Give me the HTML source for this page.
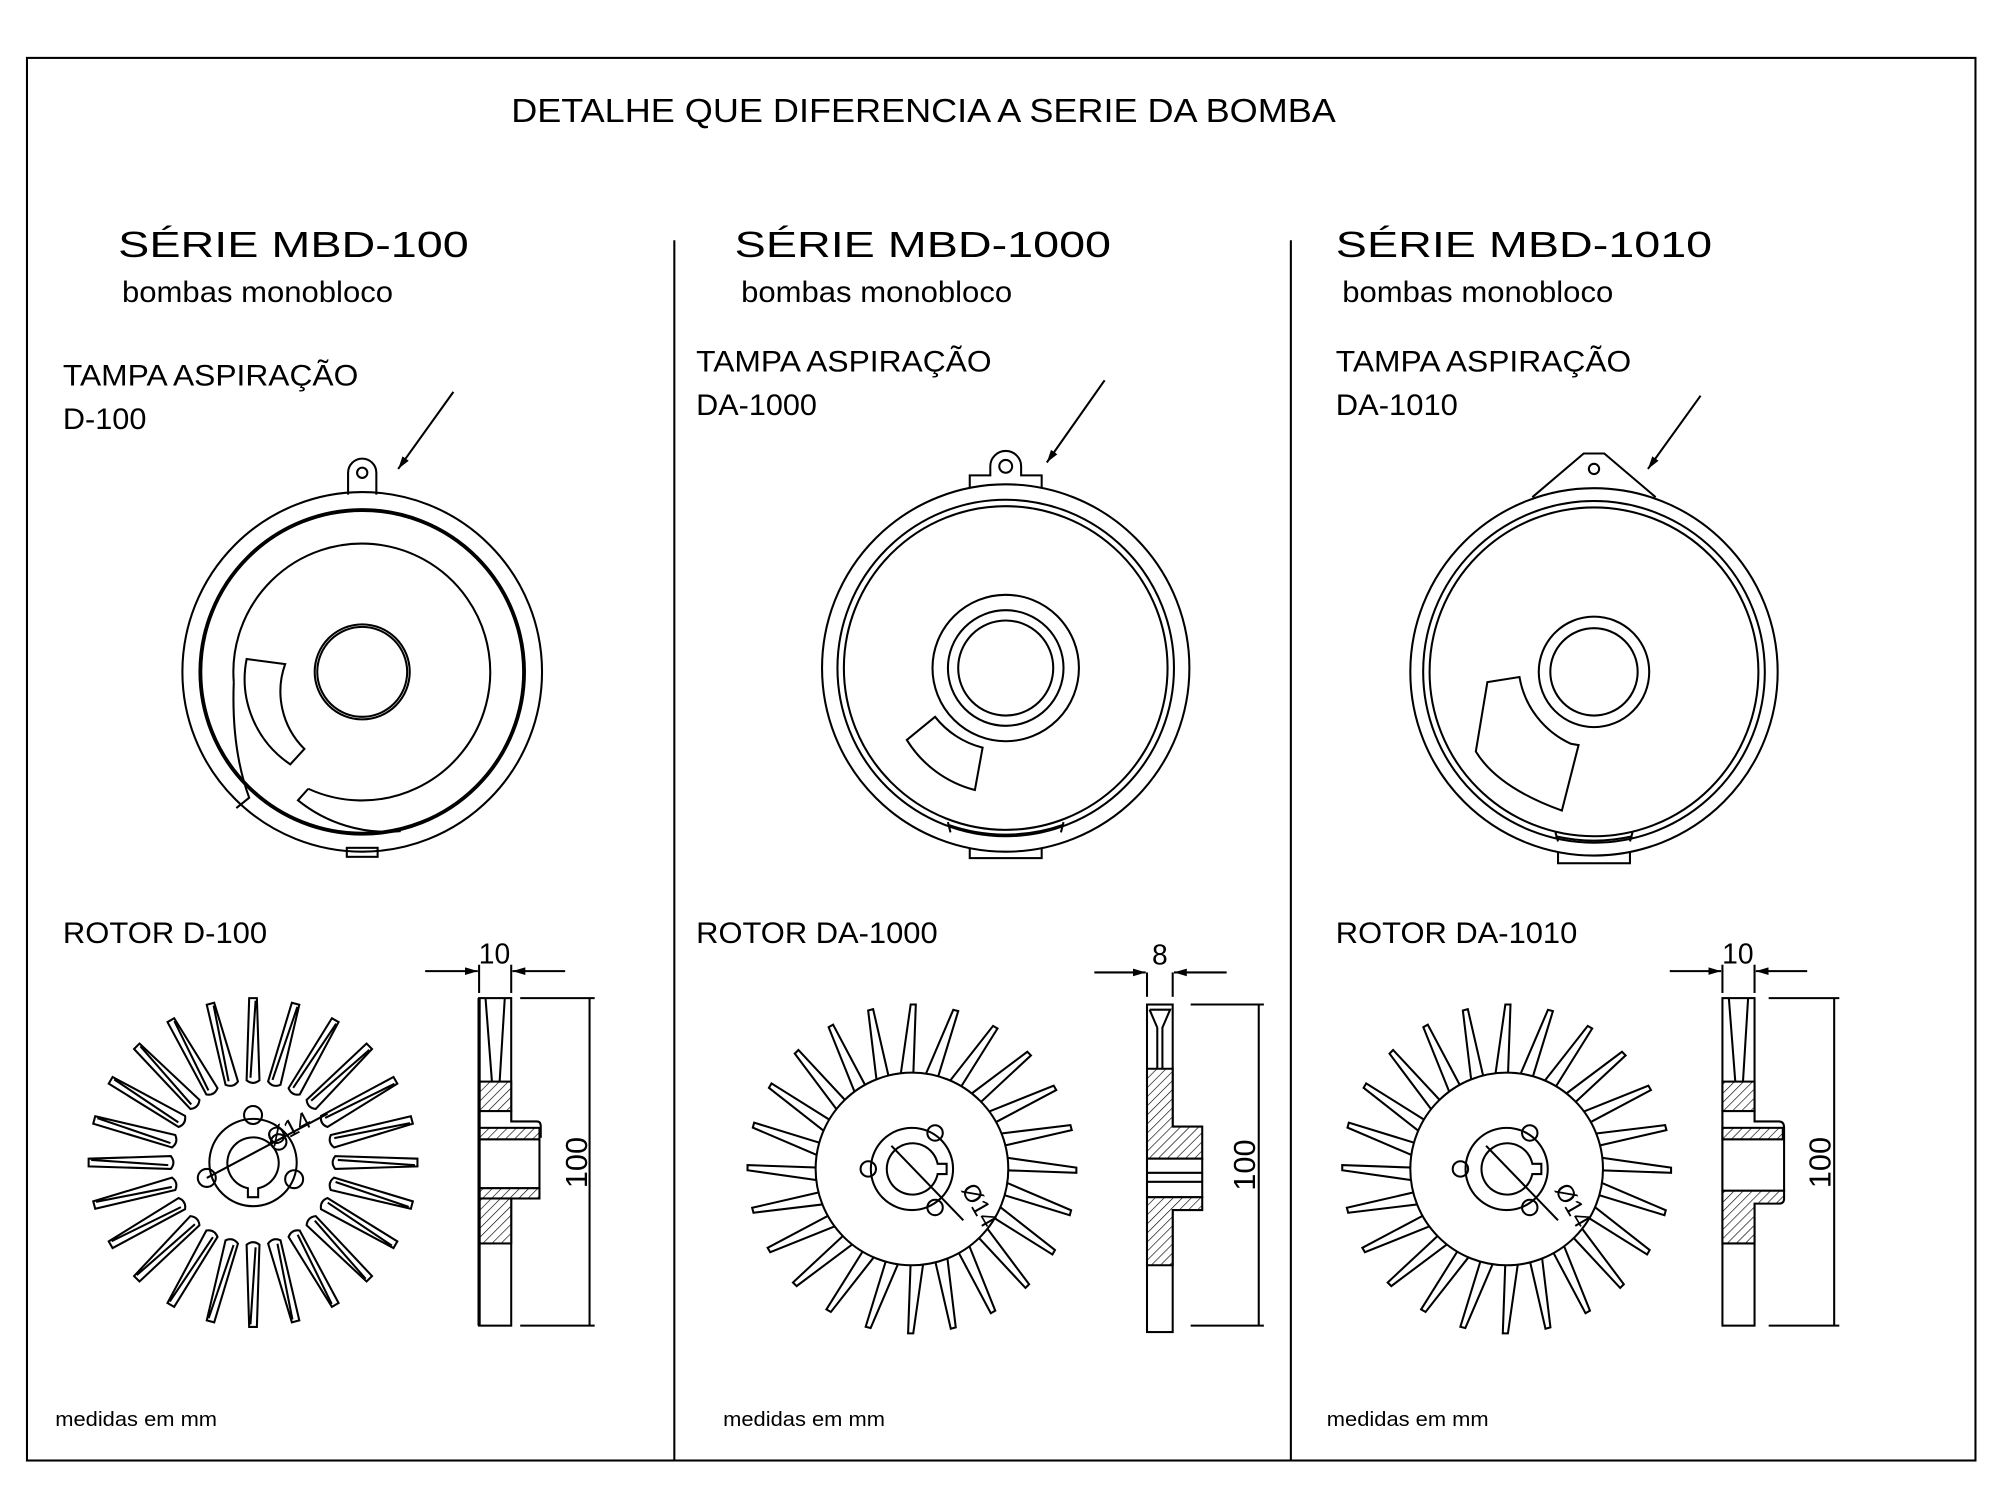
<!DOCTYPE html>
<html><head><meta charset="utf-8"><style>
html,body{margin:0;padding:0;background:#fff;}
svg{display:block;}
text{font-family:"Liberation Sans",sans-serif;fill:#000;}
</style></head><body>
<svg width="2014" height="1503" viewBox="0 0 1568 1170" xmlns="http://www.w3.org/2000/svg">
<defs>
<pattern id="h" width="5" height="5" patternUnits="userSpaceOnUse" patternTransform="rotate(45)">
<rect width="5" height="5" fill="#fff"/><line x1="0" y1="0" x2="0" y2="5" stroke="#000" stroke-width="1"/>
</pattern>
<g id="b1"><path d="M64,-5 L128,-3 L128,3 L64,5 Q60,0 64,-5 Z M66,-2 L126,2" fill="none" stroke="#000" stroke-width="1.6"/></g>
<g id="b2"><path d="M72,-9 L128,-1 L128,3 L72,1 Z" fill="none" stroke="#000" stroke-width="1.6"/></g>
<marker id="ar" markerWidth="10" markerHeight="6" refX="10" refY="3" orient="auto" markerUnits="userSpaceOnUse"><path d="M0,0 L10,3 L0,6 Z" fill="#000"/></marker>
</defs>
<g fill="none" stroke="#000" stroke-width="1.6">
<rect x="21" y="45" width="1517" height="1092"/>
<line x1="525" y1="187" x2="525" y2="1137"/>
<line x1="1005" y1="187" x2="1005" y2="1137"/>
</g>
<g lengthAdjust="spacingAndGlyphs">
<text x="398" y="95" font-size="26" textLength="642" lengthAdjust="spacingAndGlyphs">DETALHE QUE DIFERENCIA A SERIE DA BOMBA</text>
<text x="92" y="200" font-size="28" textLength="273" lengthAdjust="spacingAndGlyphs">SÉRIE MBD-100</text>
<text x="572" y="200" font-size="28" textLength="293" lengthAdjust="spacingAndGlyphs">SÉRIE MBD-1000</text>
<text x="1040" y="200" font-size="28" textLength="293" lengthAdjust="spacingAndGlyphs">SÉRIE MBD-1010</text>
<text x="95" y="235" font-size="23" textLength="211" lengthAdjust="spacingAndGlyphs">bombas monobloco</text>
<text x="577" y="235" font-size="23" textLength="211" lengthAdjust="spacingAndGlyphs">bombas monobloco</text>
<text x="1045" y="235" font-size="23" textLength="211" lengthAdjust="spacingAndGlyphs">bombas monobloco</text>
<text x="49" y="300" font-size="23" textLength="230" lengthAdjust="spacingAndGlyphs">TAMPA ASPIRAÇÃO</text>
<text x="49" y="334" font-size="23" textLength="65" lengthAdjust="spacingAndGlyphs">D-100</text>
<text x="542" y="289" font-size="23" textLength="230" lengthAdjust="spacingAndGlyphs">TAMPA ASPIRAÇÃO</text>
<text x="542" y="323" font-size="23" textLength="94" lengthAdjust="spacingAndGlyphs">DA-1000</text>
<text x="1040" y="289" font-size="23" textLength="230" lengthAdjust="spacingAndGlyphs">TAMPA ASPIRAÇÃO</text>
<text x="1040" y="323" font-size="23" textLength="95" lengthAdjust="spacingAndGlyphs">DA-1010</text>
<text x="49" y="734" font-size="23" textLength="159" lengthAdjust="spacingAndGlyphs">ROTOR D-100</text>
<text x="542" y="734" font-size="23" textLength="188" lengthAdjust="spacingAndGlyphs">ROTOR DA-1000</text>
<text x="1040" y="734" font-size="23" textLength="188" lengthAdjust="spacingAndGlyphs">ROTOR DA-1010</text>
<text x="43" y="1110" font-size="16" textLength="126" lengthAdjust="spacingAndGlyphs">medidas em mm</text>
<text x="563" y="1110" font-size="16" textLength="126" lengthAdjust="spacingAndGlyphs">medidas em mm</text>
<text x="1033" y="1110" font-size="16" textLength="126" lengthAdjust="spacingAndGlyphs">medidas em mm</text>
</g>

<g fill="none" stroke="#000" stroke-width="1.6">
<line x1="353" y1="305" x2="310" y2="365" marker-end="url(#ar)"/>
<line x1="860" y1="296" x2="815" y2="360" marker-end="url(#ar)"/>
<line x1="1324" y1="308" x2="1283" y2="365" marker-end="url(#ar)"/>

<!-- Tampa 1 -->
<g transform="translate(282,523)">
<path d="M-11,-138 L-11,-155 A11,11 0 0 1 11,-155 L11,-138" fill="#fff"/>
<circle cx="0" cy="-155" r="4"/>
<rect x="-12" y="137" width="24" height="7"/>
<circle r="140"/>
<circle r="126" stroke-width="3"/>
<path d="M-100,8 A100,100 0 1 1 -42,91"/>
<circle r="37"/><circle r="35"/>
<path d="M-90,-10 L-60,-6 A63,63 0 0 0 -45,60 L-56,72 A80,80 0 0 1 -90,-10 Z"/>
<path d="M-100,8 Q-102,60 -88,98 L-98,106"/>
<path d="M-42,91 L-50,100 A110,110 0 0 0 30,124"/>
</g>

<!-- Tampa 2 -->
<g transform="translate(783,520)">
<path d="M-28,-137 L-28,-150 L-12,-150 L-12,-157 A12,12 0 0 1 12,-157 L12,-150 L28,-150 L28,-137" fill="#fff"/>
<circle cx="0" cy="-157" r="5"/>
<rect x="-28" y="137" width="56" height="11"/>
<circle r="143" fill="#fff"/>
<circle r="131"/><circle r="126"/>
<circle r="57"/><circle r="45"/><circle r="37"/>
<path d="M-77,56 L-55,38 A68,68 0 0 0 -18,62 L-24,95 A88,88 0 0 1 -77,56 Z"/>
<path d="M-45,120 L-43,128 M45,120 L43,128 M-45,122 A135,135 0 0 0 45,122"/>
</g>

<!-- Tampa 3 -->
<g transform="translate(1241,523)">
<path d="M-48,-136 L-8,-170 L8,-170 L48,-136" fill="#fff"/>
<circle cx="0" cy="-158" r="4"/>
<rect x="-28" y="138" width="56" height="11"/>
<circle r="143" fill="#fff"/>
<circle r="133"/><circle r="128"/>
<circle r="43"/><circle r="34"/>
<path d="M-83,8 L-58,4 A70,70 0 0 0 -18,56 L-12,57 L-25,108 Q-75,90 -92,62 Z"/>
<path d="M-30,125 L-28,132 M30,125 L28,132 M-30,128 A135,135 0 0 0 30,128"/>
</g>

<!-- Rotor 1 -->
<g transform="translate(197,905)">
<use href="#b1" transform="rotate(0)"/><use href="#b1" transform="rotate(15)"/><use href="#b1" transform="rotate(30)"/><use href="#b1" transform="rotate(45)"/><use href="#b1" transform="rotate(60)"/><use href="#b1" transform="rotate(75)"/><use href="#b1" transform="rotate(90)"/><use href="#b1" transform="rotate(105)"/><use href="#b1" transform="rotate(120)"/><use href="#b1" transform="rotate(135)"/><use href="#b1" transform="rotate(150)"/><use href="#b1" transform="rotate(165)"/><use href="#b1" transform="rotate(180)"/><use href="#b1" transform="rotate(195)"/><use href="#b1" transform="rotate(210)"/><use href="#b1" transform="rotate(225)"/><use href="#b1" transform="rotate(240)"/><use href="#b1" transform="rotate(255)"/><use href="#b1" transform="rotate(270)"/><use href="#b1" transform="rotate(285)"/><use href="#b1" transform="rotate(300)"/><use href="#b1" transform="rotate(315)"/><use href="#b1" transform="rotate(330)"/><use href="#b1" transform="rotate(345)"/>
<circle r="34"/>
<path d="M-4,20 A20,20 0 1 1 4,20 L4,27 L-4,27 Z"/>
<circle cx="0" cy="-37" r="7"/><circle cx="-36" cy="12" r="7"/><circle cx="32" cy="13" r="7"/><circle cx="20" cy="-16" r="6"/>
<line x1="-36" y1="12" x2="58" y2="-38"/>
</g>

<!-- Rotor 2 -->
<g transform="translate(710,910)">
<use href="#b2" transform="rotate(0)"/><use href="#b2" transform="rotate(15)"/><use href="#b2" transform="rotate(30)"/><use href="#b2" transform="rotate(45)"/><use href="#b2" transform="rotate(60)"/><use href="#b2" transform="rotate(75)"/><use href="#b2" transform="rotate(90)"/><use href="#b2" transform="rotate(105)"/><use href="#b2" transform="rotate(120)"/><use href="#b2" transform="rotate(135)"/><use href="#b2" transform="rotate(150)"/><use href="#b2" transform="rotate(165)"/><use href="#b2" transform="rotate(180)"/><use href="#b2" transform="rotate(195)"/><use href="#b2" transform="rotate(210)"/><use href="#b2" transform="rotate(225)"/><use href="#b2" transform="rotate(240)"/><use href="#b2" transform="rotate(255)"/><use href="#b2" transform="rotate(270)"/><use href="#b2" transform="rotate(285)"/><use href="#b2" transform="rotate(300)"/><use href="#b2" transform="rotate(315)"/><use href="#b2" transform="rotate(330)"/><use href="#b2" transform="rotate(345)"/>
<circle r="75" fill="#fff"/>
<circle r="32"/>
<path d="M20,-4 A20,20 0 1 0 20,4 L27,4 L27,-4 Z"/>
<circle cx="-34" cy="0" r="6"/><circle cx="18" cy="-28" r="6"/><circle cx="18" cy="30" r="6"/>
<line x1="-16" y1="-18" x2="40" y2="40"/>
</g>

<!-- Rotor 3 -->
<g transform="translate(1173,910)">
<use href="#b2" transform="rotate(0)"/><use href="#b2" transform="rotate(15)"/><use href="#b2" transform="rotate(30)"/><use href="#b2" transform="rotate(45)"/><use href="#b2" transform="rotate(60)"/><use href="#b2" transform="rotate(75)"/><use href="#b2" transform="rotate(90)"/><use href="#b2" transform="rotate(105)"/><use href="#b2" transform="rotate(120)"/><use href="#b2" transform="rotate(135)"/><use href="#b2" transform="rotate(150)"/><use href="#b2" transform="rotate(165)"/><use href="#b2" transform="rotate(180)"/><use href="#b2" transform="rotate(195)"/><use href="#b2" transform="rotate(210)"/><use href="#b2" transform="rotate(225)"/><use href="#b2" transform="rotate(240)"/><use href="#b2" transform="rotate(255)"/><use href="#b2" transform="rotate(270)"/><use href="#b2" transform="rotate(285)"/><use href="#b2" transform="rotate(300)"/><use href="#b2" transform="rotate(315)"/><use href="#b2" transform="rotate(330)"/><use href="#b2" transform="rotate(345)"/>
<circle r="75" fill="#fff"/>
<circle r="32"/>
<path d="M20,-4 A20,20 0 1 0 20,4 L27,4 L27,-4 Z"/>
<circle cx="-36" cy="0" r="6"/><circle cx="18" cy="-28" r="6"/><circle cx="18" cy="30" r="6"/>
<line x1="-16" y1="-18" x2="40" y2="40"/>
</g>

<!-- Side 1 -->
<rect x="373" y="777" width="25" height="255"/>
<line x1="378" y1="777" x2="383" y2="842"/><line x1="393" y1="777" x2="389" y2="842"/>
<rect x="373" y="842" width="25" height="23" fill="url(#h)"/>
<path d="M373,865 L398,865 L398,873 L418,873 Q421,873 421,877 L421,885 L373,885 Z" fill="#fff"/>
<rect x="373" y="878" width="47" height="9" fill="url(#h)"/>
<rect x="373" y="887" width="47" height="38" fill="#fff"/>
<rect x="373" y="925" width="47" height="8" fill="url(#h)"/>
<rect x="373" y="933" width="25" height="35" fill="url(#h)"/>
<line x1="373" y1="777" x2="373" y2="1032" stroke-width="2.5"/>
<line x1="373" y1="751" x2="373" y2="773"/><line x1="398" y1="751" x2="398" y2="773"/>
<line x1="331" y1="756" x2="372" y2="756" marker-end="url(#ar)"/>
<line x1="440" y1="756" x2="399" y2="756" marker-end="url(#ar)"/>
<line x1="405" y1="777" x2="463" y2="777"/><line x1="405" y1="1032" x2="463" y2="1032"/>
<line x1="459" y1="777" x2="459" y2="1032"/>

<!-- Side 2 -->
<rect x="893" y="782" width="20" height="255"/>
<path d="M895,786 L911,786 L905,800 L905,832 M901,800 L901,832 M895,786 L901,800"/>
<path d="M893,832 L913,832 L913,877 L936,877 L936,902 L893,902 Z" fill="url(#h)"/>
<rect x="893" y="902" width="43" height="30" fill="#fff"/>
<line x1="893" y1="913" x2="936" y2="913"/><line x1="893" y1="920" x2="936" y2="920"/>
<path d="M893,932 L936,932 L936,942 L913,942 L913,985 L893,985 Z" fill="url(#h)"/>
<line x1="893" y1="757" x2="893" y2="776"/><line x1="913" y1="757" x2="913" y2="776"/>
<line x1="852" y1="757" x2="892" y2="757" marker-end="url(#ar)"/>
<line x1="955" y1="757" x2="914" y2="757" marker-end="url(#ar)"/>
<line x1="927" y1="782" x2="984" y2="782"/><line x1="927" y1="1032" x2="984" y2="1032"/>
<line x1="980" y1="782" x2="980" y2="1032"/>

<!-- Side 3 -->
<rect x="1341" y="777" width="25" height="255"/>
<line x1="1346" y1="777" x2="1351" y2="842"/><line x1="1361" y1="777" x2="1357" y2="842"/>
<rect x="1341" y="842" width="25" height="23" fill="url(#h)"/>
<path d="M1341,865 L1366,865 L1366,873 L1385,873 Q1389,873 1389,878 L1389,886 L1341,886 Z" fill="#fff"/>
<rect x="1341" y="878" width="47" height="9" fill="url(#h)"/>
<rect x="1341" y="887" width="48" height="40" fill="#fff"/>
<path d="M1341,927 L1389,927 L1389,933 Q1389,937 1385,937 L1366,937 L1366,968 L1341,968 Z" fill="url(#h)"/>
<line x1="1341" y1="751" x2="1341" y2="773"/><line x1="1366" y1="751" x2="1366" y2="773"/>
<line x1="1300" y1="756" x2="1340" y2="756" marker-end="url(#ar)"/>
<line x1="1407" y1="756" x2="1367" y2="756" marker-end="url(#ar)"/>
<line x1="1377" y1="777" x2="1432" y2="777"/><line x1="1377" y1="1032" x2="1432" y2="1032"/>
<line x1="1428" y1="777" x2="1428" y2="1032"/>
</g>
<text font-size="19" transform="translate(212,893) rotate(-28)">Ø14</text>
<text font-size="19" transform="translate(748,926) rotate(60)">Ø14</text>
<text font-size="19" transform="translate(1210,926) rotate(60)">Ø14</text>
<text x="385" y="750" font-size="22" text-anchor="middle">10</text>
<text x="903" y="751" font-size="22" text-anchor="middle">8</text>
<text x="1353" y="750" font-size="22" text-anchor="middle">10</text>
<text font-size="24" text-anchor="middle" transform="translate(457,905) rotate(-90)">100</text>
<text font-size="24" text-anchor="middle" transform="translate(977,907) rotate(-90)">100</text>
<text font-size="24" text-anchor="middle" transform="translate(1425,905) rotate(-90)">100</text>
</svg>
</body></html>
